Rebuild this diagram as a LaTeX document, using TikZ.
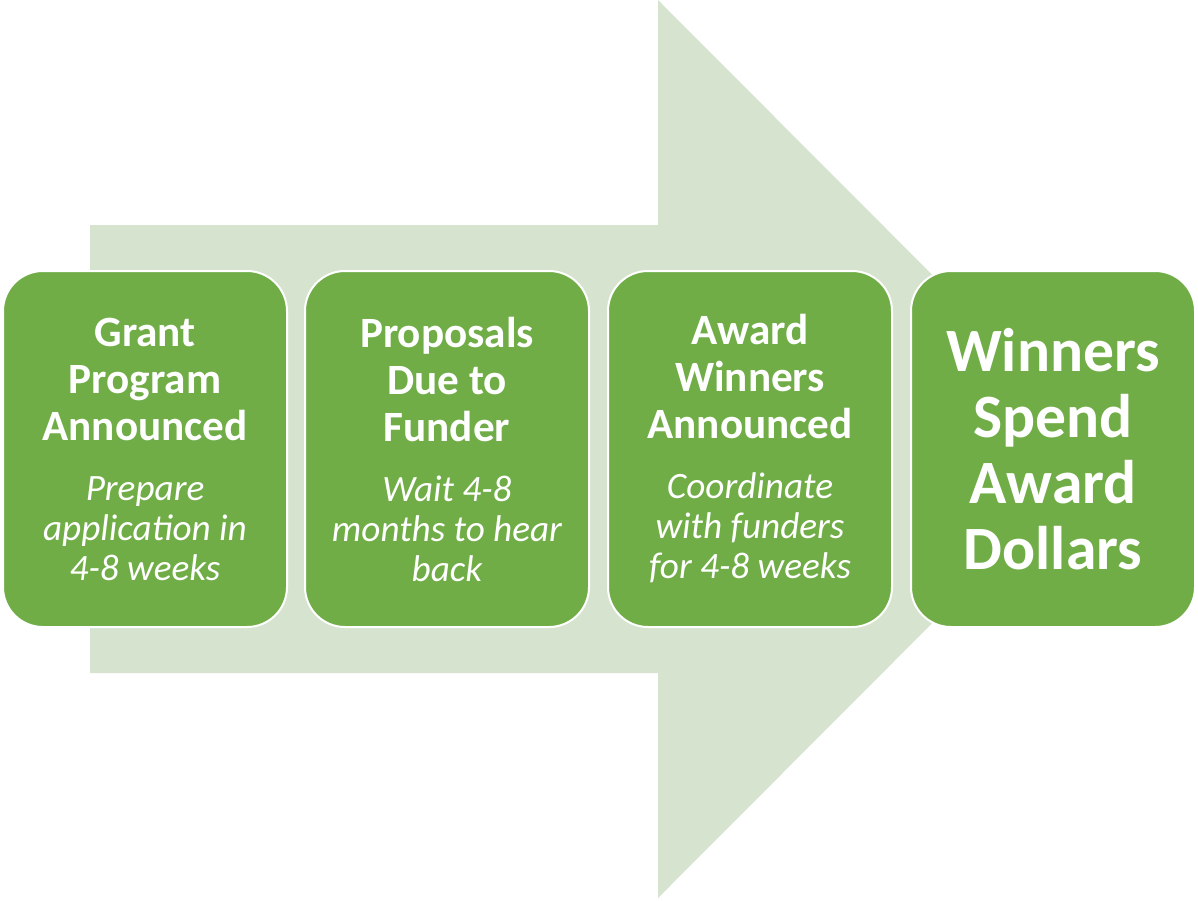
\documentclass[tikz,border=0pt]{standalone}
\usepackage{fontspec}
\setmainfont{Carlito}
\definecolor{boxgreen}{HTML}{70AD47}
\definecolor{arrowgreen}{HTML}{D6E3CF}
\tikzset{
  stepbox/.style={draw=white, line width=1pt, fill=boxgreen, rounded corners=20pt,
    minimum width=142pt, minimum height=178pt, inner sep=0pt, text=white},
}
\newcommand{\steptext}[2]{\parbox{140pt}{\centering\fontsize{21.6}{23.5}\selectfont\bfseries #1\par\vspace{10pt}\fontsize{18.6}{20}\selectfont\mdseries\itshape #2\par}}
\newcommand{\bigtext}[1]{\parbox{140pt}{\centering\fontsize{30.8}{33}\selectfont\bfseries #1\par}}
\begin{document}
\begin{tikzpicture}[x=0.5pt,y=-0.5pt]
\useasboundingbox (0,0) rectangle (1198,900);
\fill[arrowgreen] (90,225) -- (658,225) -- (658,0) -- (1106,449) -- (658,898) -- (658,673) -- (90,673) -- cycle;
\node[stepbox] (b1) at (145,449) {\steptext{Grant\\Program\\Announced}{Prepare\\application in\\4-8 weeks}};
\node[stepbox] (b2) at (447,449) {\steptext{Proposals\\Due to\\Funder}{Wait 4-8\\months to hear\\back}};
\node[stepbox] (b3) at (750,449) {\steptext{Award\\Winners\\Announced}{Coordinate\\with funders\\for 4-8 weeks}};
\node[stepbox] (b4) at (1053,449) {\bigtext{Winners\\Spend\\Award\\Dollars}};
\end{tikzpicture}
\end{document}
